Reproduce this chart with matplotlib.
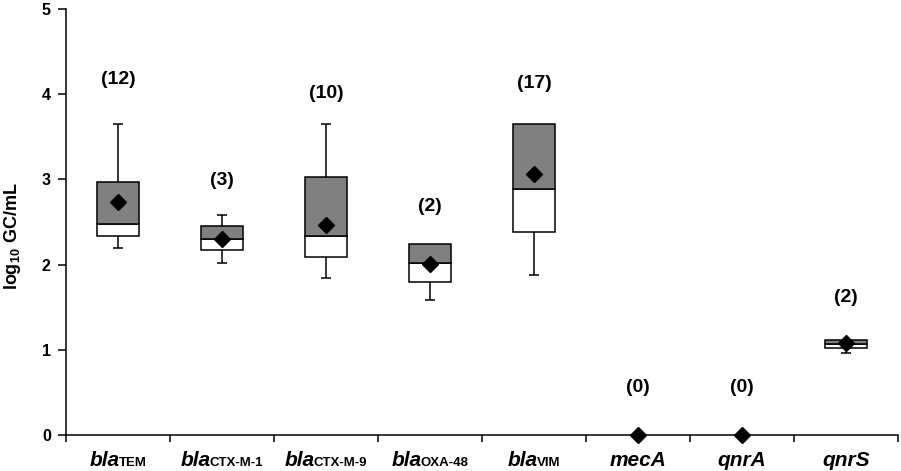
import matplotlib
matplotlib.use("Agg")
import matplotlib.pyplot as plt
import numpy as np
from matplotlib.offsetbox import TextArea, HPacker, AnnotationBbox

plt.rcParams['font.family'] = ['Liberation Sans', 'DejaVu Sans']
plt.rcParams['mathtext.fontset'] = 'custom'
plt.rcParams['mathtext.rm'] = 'Liberation Sans:bold'
plt.rcParams['mathtext.bf'] = 'Liberation Sans:bold'

# genes: main part (italic) and subscript
gene_main = ['bla', 'bla', 'bla', 'bla', 'bla', 'mecA', 'qnrA', 'qnrS']
gene_sub = ['TEM', 'CTX\u2010M\u20101', 'CTX\u2010M\u20109', 'OXA\u201048', 'VIM', '', '', '']
n_pos = [12, 3, 10, 2, 17, 0, 0, 2]

nan = np.nan
q1 = [2.34, 2.17, 2.09, 1.80, 2.38, nan, nan, 1.02]
med = [2.48, 2.30, 2.34, 2.02, 2.89, nan, nan, 1.07]
q3 = [2.97, 2.45, 3.03, 2.24, 3.65, nan, nan, 1.12]
wmin = [2.19, 2.02, 1.84, 1.58, 1.88, nan, nan, 0.96]
wmax = [3.65, 2.58, 3.65, 2.24, 3.65, nan, nan, 1.12]
means = [2.73, 2.30, 2.46, 2.01, 3.06, 0.0, 0.0, 1.08]
label_y = [4.17, 2.99, 4.01, 2.68, 4.13, 0.56, 0.56, 1.61]

fig = plt.figure(figsize=(9.01, 4.71), dpi=100)
ax = fig.add_axes([0.0733, 0.0764, 0.9234, 0.9045])

x = np.arange(len(gene_main))
box_w = 0.4
cap_w = 0.1
lw = 1.1

for i in x:
    if np.isnan(q1[i]):
        continue
    # whiskers
    ax.vlines(i, wmin[i], q1[i], color='black', lw=lw, zorder=1)
    ax.hlines(wmin[i], i - cap_w / 2, i + cap_w / 2, color='black', lw=lw, zorder=1)
    if wmax[i] > q3[i]:
        ax.vlines(i, q3[i], wmax[i], color='black', lw=lw, zorder=1)
        ax.hlines(wmax[i], i - cap_w / 2, i + cap_w / 2, color='black', lw=lw, zorder=1)
    # lower half white, upper half gray
    ax.bar(i, med[i] - q1[i], bottom=q1[i], width=box_w, color='white',
           edgecolor='black', linewidth=lw, zorder=2)
    ax.bar(i, q3[i] - med[i], bottom=med[i], width=box_w, color='#808080',
           edgecolor='black', linewidth=lw, zorder=2)

ax.plot(x, means, 'D', color='black', markersize=8.5, clip_on=False, zorder=5)

for i in x:
    ax.text(i, label_y[i], f'({n_pos[i]})', ha='center', va='center',
            fontsize=14, fontweight='bold')

ax.set_xlim(-0.5, 7.5)
ax.set_ylim(0, 5)
ax.set_yticks(range(6))
ax.set_xticks(np.arange(-0.5, 8, 1))
ax.set_xticklabels([])
ax.tick_params(axis='y', direction='out', length=6, width=1.1, labelsize=11.5, pad=5)
ax.tick_params(axis='x', direction='out', length=5, width=1.1)
for lab in ax.get_yticklabels():
    lab.set_fontweight('bold')
for s in ['top', 'right']:
    ax.spines[s].set_visible(False)
for s in ['left', 'bottom']:
    ax.spines[s].set_linewidth(1.1)

ax.set_ylabel(r'$\mathbf{log_{10}\ GC/mL}$', fontsize=13)
ax.yaxis.set_label_coords(-0.052, 0.467)

# gene names with subscripts under each category
for i in x:
    parts = [TextArea(gene_main[i], textprops=dict(fontsize=15, fontweight='bold',
                                                   fontstyle='italic'))]
    if gene_sub[i]:
        parts.append(TextArea(gene_sub[i], textprops=dict(fontsize=9.5, fontweight='bold')))
    pack = HPacker(children=parts, align='baseline', pad=0, sep=-1)
    ab = AnnotationBbox(pack, (i, 0), xycoords=('data', 'axes fraction'),
                        xybox=(0, -11.5), boxcoords='offset points',
                        box_alignment=(0.5, 1), frameon=False, pad=0,
                        annotation_clip=False)
    ax.add_artist(ab)

fig.savefig('out.png', dpi=100)
